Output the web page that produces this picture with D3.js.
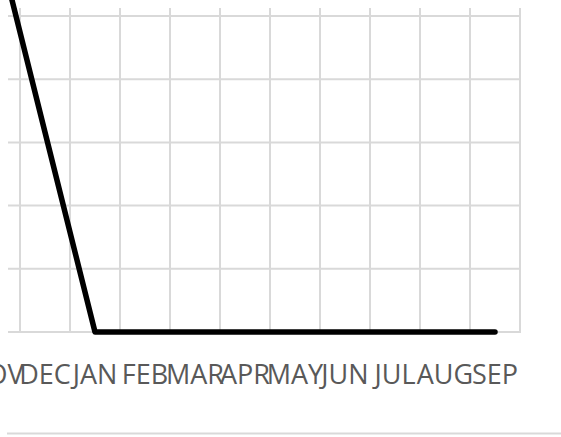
<!DOCTYPE html>
<html><head><meta charset="utf-8">
<script src="https://cdn.jsdelivr.net/npm/d3@7"></script>
<style>body{margin:0;background:#fff}svg{display:block}</style>
</head><body>
<svg id="c" width="561" height="437"></svg>
<script>
const months = ["NOV","DEC","JAN","FEB","MAR","APR","MAY","JUN","JUL","AUG","SEP"];
const values = [6.33, 3.16, 0, 0, 0, 0, 0, 0, 0, 0, 0];
const yTicks = [0, 1, 2, 3, 4, 5];

const svg = d3.select("#c");
const plotLeft = 8, plotRight = 521, plotTop = 8, plotBottom = 332;
const x = d3.scaleBand().domain(months).range([-30, 520]).padding(0);
const y = d3.scaleLinear().domain([0, 5]).range([332, 16]);
const grid = "#d9d9d9";

// horizontal gridlines
svg.append("g").selectAll("line").data(yTicks).join("line")
  .attr("x1", plotLeft).attr("x2", plotRight)
  .attr("y1", d => y(d)).attr("y2", d => y(d))
  .attr("stroke", grid).attr("stroke-width", 2);

// vertical gridlines at category boundaries
const bounds = months.slice(1).map(m => x(m)).concat([x(months[months.length-1]) + x.bandwidth()]);
svg.append("g").selectAll("line").data(bounds).join("line")
  .attr("x1", d => d).attr("x2", d => d)
  .attr("y1", plotTop).attr("y2", plotBottom)
  .attr("stroke", grid).attr("stroke-width", 2);

// category axis labels
svg.append("g").selectAll("text").data(months).join("text")
  .attr("x", d => x(d) + x.bandwidth()/2)
  .attr("y", 384)
  .attr("text-anchor", "middle")
  .attr("font-family", "'Liberation Sans Narrow', 'Open Sans', sans-serif")
  .attr("font-size", 27)
  .attr("fill", "#595959")
  .text(d => d);

// data line
const line = d3.line().x((d,i) => x(months[i]) + x.bandwidth()/2).y(d => y(d));
svg.append("path").datum(values)
  .attr("d", line)
  .attr("fill", "none").attr("stroke", "#000").attr("stroke-width", 5.5)
  .attr("stroke-linecap", "round").attr("stroke-linejoin", "round");

// chart border (bottom)
svg.append("line").attr("x1", 7).attr("x2", 561).attr("y1", 433.5).attr("y2", 433.5)
  .attr("stroke", grid).attr("stroke-width", 2);
</script>
</body></html>
